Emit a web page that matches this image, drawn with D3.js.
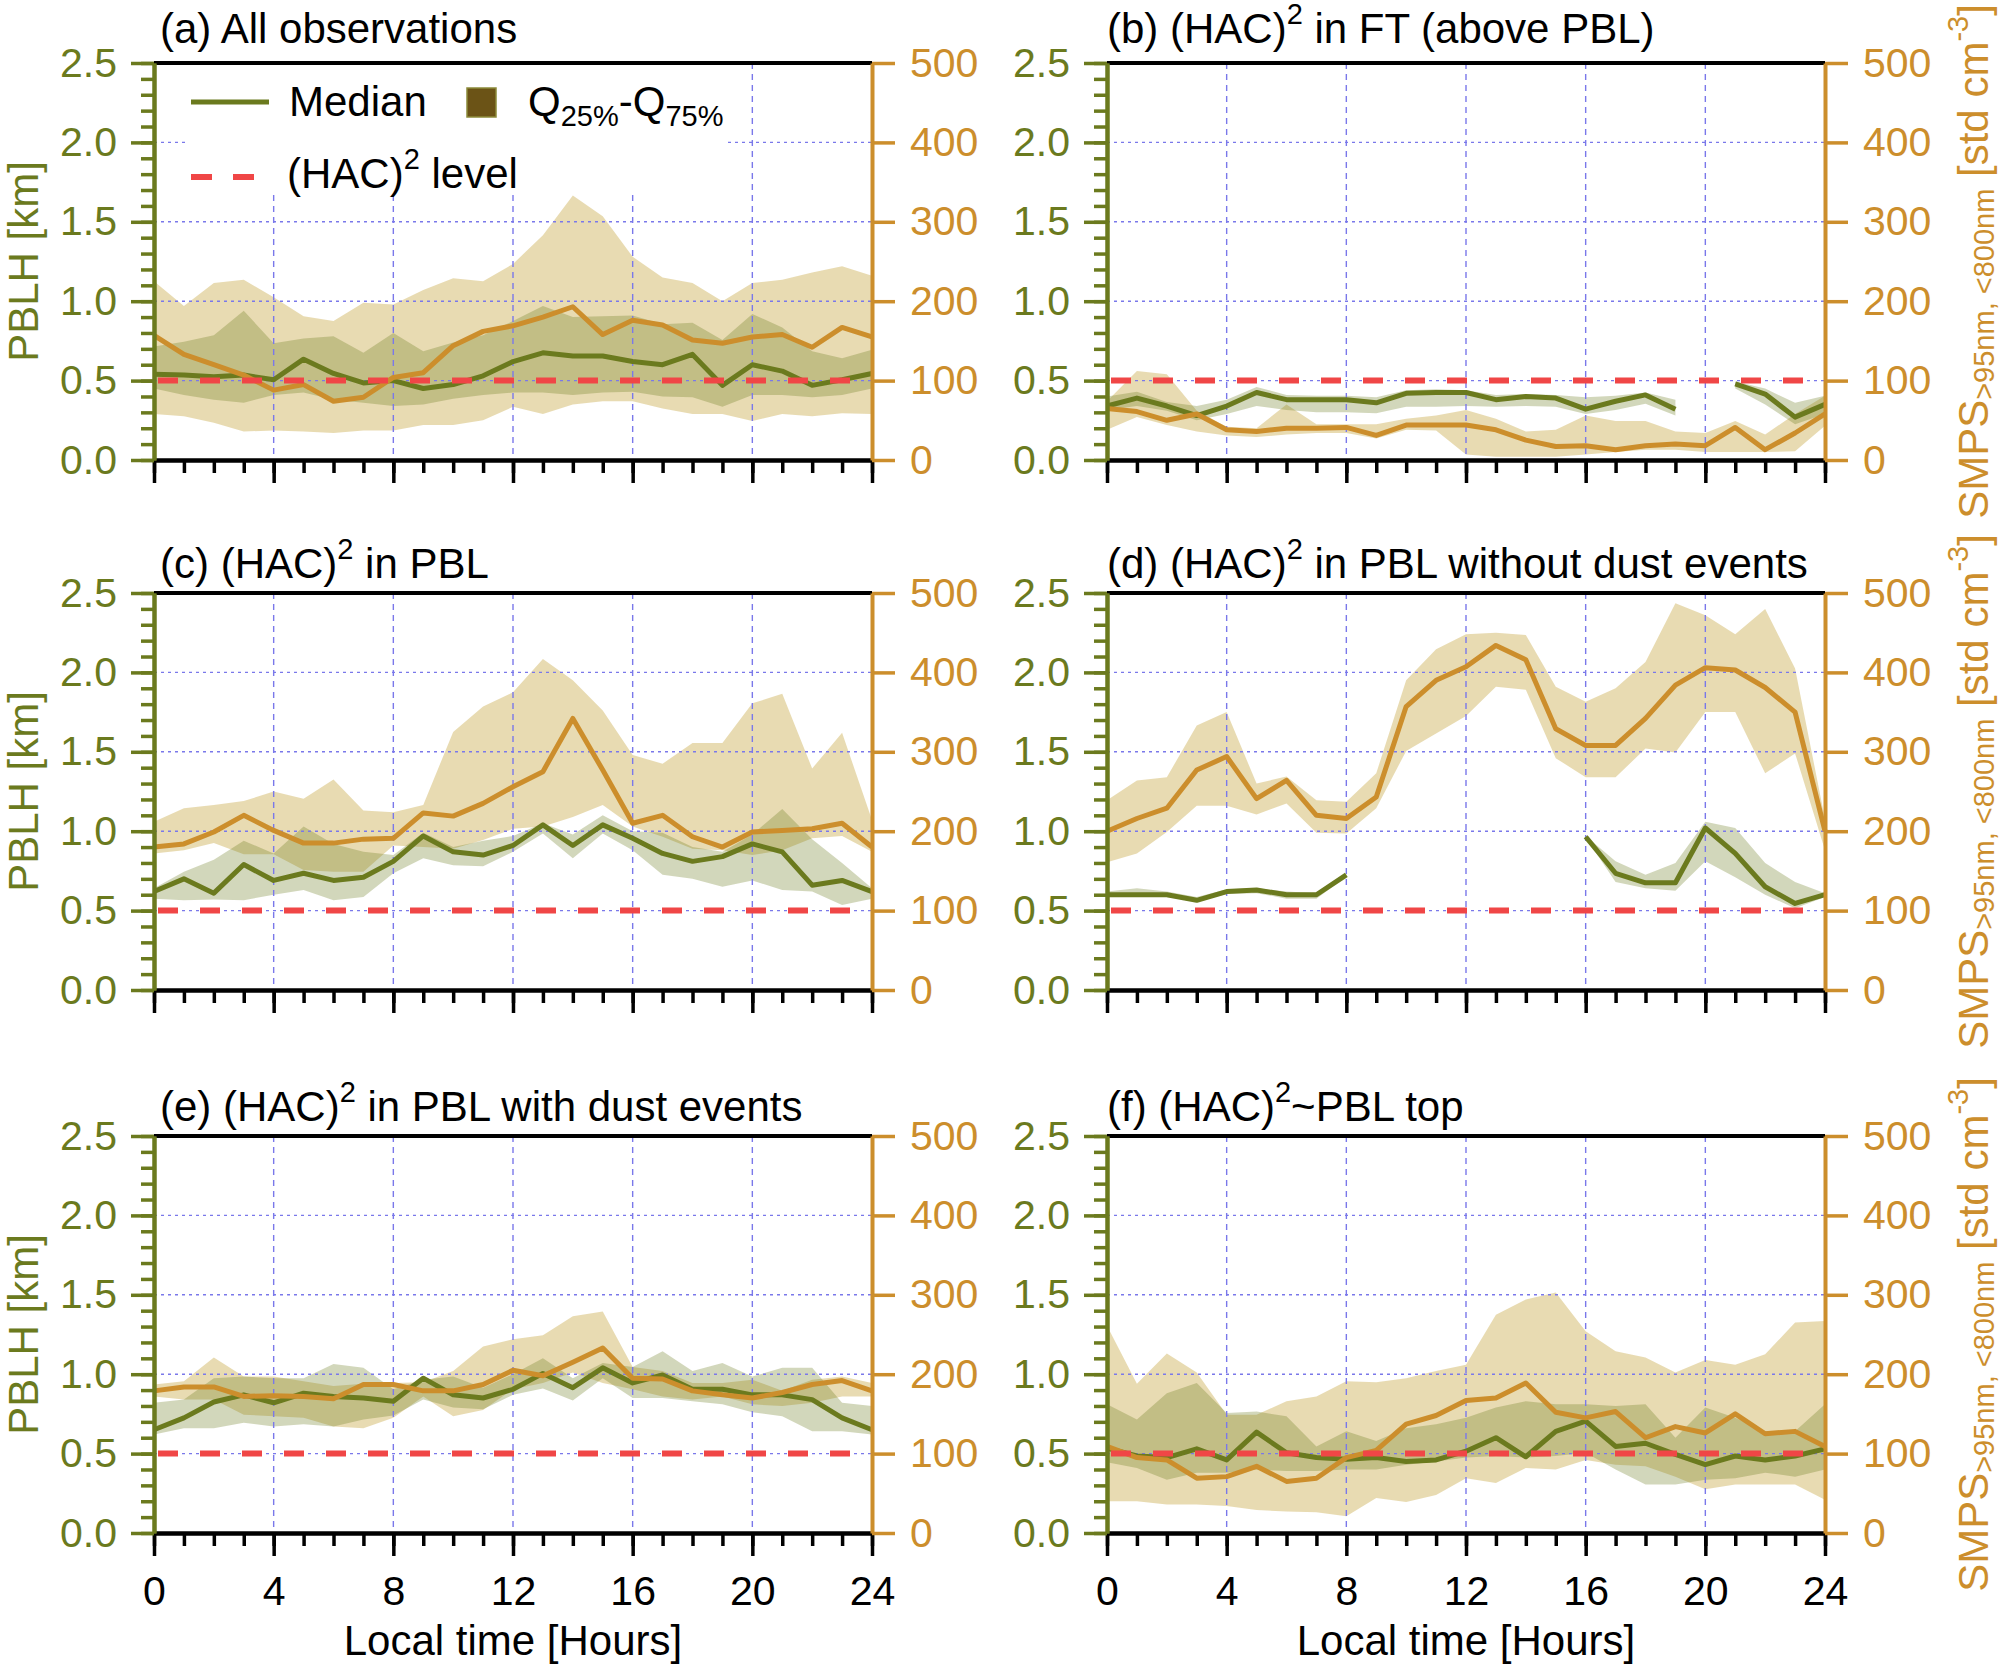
<!DOCTYPE html>
<html>
<head>
<meta charset="utf-8">
<script src="https://cdn.jsdelivr.net/npm/d3@7"></script>
<style>
  body { margin: 0; background: #fff; }
  svg { display: block; }
  text { font-family: "Liberation Sans", Arial, sans-serif; }
</style>
</head>
<body>
<svg id="chart" width="2000" height="1670"></svg>
<script>
// hours of the day (x axis)
var hours = [0,1,2,3,4,5,6,7,8,9,10,11,12,13,14,15,16,17,18,19,20,21,22,23,24];

// (a) All observations
var pblhMed_a = [0.54,0.535,0.525,0.535,0.505,0.635,0.545,0.485,0.50,0.45,0.475,0.53,0.62,0.675,0.655,0.655,0.62,0.60,0.665,0.47,0.60,0.56,0.47,0.505,0.545];
var pblhQ75_a = [0.715,0.745,0.785,0.94,0.735,0.765,0.78,0.675,0.80,0.685,0.74,0.785,0.875,0.97,0.90,0.905,0.91,0.855,0.865,0.755,0.92,0.835,0.685,0.64,0.695];
var pblhQ25_a = [0.45,0.41,0.38,0.36,0.41,0.425,0.38,0.36,0.34,0.35,0.385,0.41,0.425,0.425,0.41,0.425,0.43,0.40,0.395,0.335,0.41,0.41,0.395,0.41,0.45];
var smpsMed_a = [157,133,120,107,88,95,74,79,104,110,144,162,169,180,193,158,176,170,151,147,155,158,142,167,155];
var smpsQ75_a = [225,194,223,227,205,181,175,198,196,214,229,225,247,283,333,307,256,230,223,200,223,227,236,244,232];
var smpsQ25_a = [58,55,47,36,37,36,34,37,37,44,44,50,67,58,70,74,74,65,58,58,49,58,55,59,58];

// (b) (HAC)2 in FT
var pblhMed_b = [0.34,0.39,0.34,0.28,0.34,0.425,0.38,0.38,0.38,0.36,0.42,0.425,0.425,0.38,0.40,0.39,0.32,0.37,0.41,0.32,null,0.48,0.415,0.27,0.35];
var pblhQ75_b = [0.40,0.43,0.365,0.34,0.38,0.46,0.41,0.405,0.405,0.395,0.44,0.445,0.44,0.41,0.415,0.41,0.395,0.405,0.425,0.38,null,0.495,0.45,0.36,0.405];
var pblhQ25_b = [0.315,0.34,0.31,0.25,0.29,0.34,0.315,0.30,0.30,0.295,0.335,0.335,0.34,0.335,0.34,0.335,0.29,0.315,0.355,0.28,null,0.45,0.35,0.225,0.29];
var smpsMed_b = [65,61,50,58,38,36,40,40,41,31,44,44,44,38,25,17,18,13,18,20,18,41,13,34,58];
var smpsQ75_b = [74,112,108,62,42,40,70,45,45,45,52,56,63,52,36,38,56,49,49,36,34,49,32,58,81];
var smpsQ25_b = [38,54,44,36,31,29,32,34,34,27,38,37,7,4,4,4,7,10,13,13,10,10,10,11,43];

// (c) (HAC)2 in PBL
var pblhMed_c = [0.62,0.70,0.61,0.79,0.69,0.735,0.69,0.71,0.81,0.97,0.87,0.85,0.91,1.04,0.91,1.04,0.955,0.86,0.81,0.84,0.92,0.87,0.66,0.69,0.62];
var pblhQ75_c = [0.64,0.745,0.82,0.94,0.86,1.03,0.92,0.87,0.85,0.99,0.90,0.94,0.97,1.05,0.98,1.10,1.0,0.99,0.90,0.87,0.98,1.14,0.95,0.80,0.64];
var pblhQ25_c = [0.575,0.565,0.57,0.565,0.60,0.63,0.565,0.585,0.735,0.83,0.785,0.78,0.87,0.985,0.83,0.985,0.88,0.725,0.70,0.65,0.69,0.63,0.62,0.535,0.575];
var smpsMed_c = [180,184,199,220,201,185,185,190,191,223,219,235,256,275,342,277,210,220,193,180,199,201,203,210,180];
var smpsQ75_c = [212,229,233,238,250,241,265,226,224,233,325,357,375,417,390,352,296,285,311,311,361,373,279,324,214];
var smpsQ25_c = [172,176,185,171,171,151,149,149,182,180,178,189,203,206,218,233,206,193,178,176,170,176,191,194,174];

// (d) (HAC)2 in PBL without dust events
var pblhMed_d = [0.60,0.60,0.60,0.565,0.62,0.63,0.60,0.60,0.725,null,null,null,null,null,null,null,0.965,0.735,0.675,0.675,1.02,0.86,0.65,0.545,0.60];
var pblhQ75_d = [0.62,0.64,0.62,0.585,0.635,0.64,0.62,0.61,0.73,null,null,null,null,null,null,null,0.97,0.81,0.725,0.80,1.06,1.02,0.80,0.68,0.61];
var pblhQ25_d = [0.585,0.585,0.585,0.555,0.605,0.61,0.575,0.575,0.715,null,null,null,null,null,null,null,0.96,0.68,0.64,0.625,0.81,0.71,0.60,0.515,0.585];
var smpsMed_d = [200,216,229,277,294,241,264,220,216,243,357,390,407,434,416,329,308,308,342,384,406,403,381,350,200];
var smpsQ75_d = [239,264,268,333,350,260,269,239,237,273,390,429,448,450,447,382,363,380,413,487,472,448,480,405,215];
var smpsQ25_d = [161,172,199,232,232,221,235,198,197,229,301,323,345,382,378,292,268,268,304,299,350,350,273,298,176];

// (e) (HAC)2 in PBL with dust events
var pblhMed_e = [0.65,0.725,0.825,0.87,0.82,0.88,0.86,0.85,0.83,0.975,0.87,0.85,0.905,1.005,0.915,1.04,0.945,0.995,0.905,0.905,0.87,0.87,0.84,0.725,0.65];
var pblhQ75_e = [0.82,0.84,0.975,0.985,0.975,0.975,1.065,1.04,0.905,0.965,0.985,0.915,1.0,1.10,0.975,1.07,1.045,1.145,1.02,1.07,0.985,1.04,1.04,0.82,0.80];
var pblhQ25_e = [0.62,0.66,0.66,0.695,0.67,0.685,0.67,0.715,0.74,0.84,0.79,0.78,0.87,0.91,0.835,0.975,0.85,0.85,0.83,0.81,0.76,0.735,0.64,0.64,0.62];
var smpsMed_e = [179,184,184,172,173,172,169,187,187,179,179,187,205,198,215,233,195,194,179,174,170,177,187,192,179];
var smpsQ75_e = [187,191,221,197,197,191,185,188,189,190,204,235,244,249,273,279,209,204,189,189,193,179,193,197,189];
var smpsQ25_e = [172,168,168,149,147,145,134,132,145,172,147,155,181,189,202,189,181,172,168,172,162,160,164,172,172];

// (f) (HAC)2 ~ PBL top
var pblhMed_f = [0.535,0.485,0.475,0.53,0.46,0.635,0.505,0.475,0.465,0.475,0.45,0.46,0.515,0.60,0.48,0.64,0.705,0.545,0.565,0.495,0.43,0.485,0.46,0.485,0.53];
var pblhQ75_f = [0.81,0.715,0.88,0.945,0.755,0.765,0.735,0.545,0.64,0.58,0.66,0.685,0.725,0.79,0.83,0.81,0.81,0.80,0.81,0.60,0.79,0.725,0.64,0.64,0.81];
var pblhQ25_f = [0.445,0.41,0.335,0.38,0.38,0.40,0.39,0.39,0.40,0.40,0.43,0.45,0.475,0.485,0.475,0.485,0.505,0.40,0.305,0.305,0.335,0.345,0.38,0.355,0.40];
var smpsMed_f = [109,95,92,69,71,84,65,69,95,104,137,148,167,170,189,152,145,153,120,134,126,150,125,128,109];
var smpsQ75_f = [261,188,226,202,149,149,166,172,191,190,195,204,212,275,294,303,254,229,221,202,218,212,225,265,267];
var smpsQ25_f = [40,40,36,36,34,29,27,26,21,44,39,48,69,63,82,80,92,86,84,71,55,61,61,61,42];

// titles: [prefix, has superscript 2, rest]
var titles = [
  ["(a) All observations", false, ""],
  ["(b) (HAC)", true, " in FT (above PBL)"],
  ["(c) (HAC)", true, " in PBL"],
  ["(d) (HAC)", true, " in PBL without dust events"],
  ["(e) (HAC)", true, " in PBL with dust events"],
  ["(f) (HAC)", true, "~PBL top"]
];
var hacLevel = 0.5;
var xTicks = [0,4,8,12,16,20,24];
var leftTicks = [0,0.5,1.0,1.5,2.0,2.5];
var rightTicks = [0,100,200,300,400,500];

var panels = [
  {pm: pblhMed_a, p75: pblhQ75_a, p25: pblhQ25_a, sm: smpsMed_a, s75: smpsQ75_a, s25: smpsQ25_a},
  {pm: pblhMed_b, p75: pblhQ75_b, p25: pblhQ25_b, sm: smpsMed_b, s75: smpsQ75_b, s25: smpsQ25_b},
  {pm: pblhMed_c, p75: pblhQ75_c, p25: pblhQ25_c, sm: smpsMed_c, s75: smpsQ75_c, s25: smpsQ25_c},
  {pm: pblhMed_d, p75: pblhQ75_d, p25: pblhQ25_d, sm: smpsMed_d, s75: smpsQ75_d, s25: smpsQ25_d},
  {pm: pblhMed_e, p75: pblhQ75_e, p25: pblhQ25_e, sm: smpsMed_e, s75: smpsQ75_e, s25: smpsQ25_e},
  {pm: pblhMed_f, p75: pblhQ75_f, p25: pblhQ25_f, sm: smpsMed_f, s75: smpsQ75_f, s25: smpsQ25_f}
];

var olive = "#6b7a1e", orange = "#cc8e2c", red = "#f04646", gridCol = "#7a78ea";
var colX = [154, 1107], plotW = 718, rowTop = [63, 593, 1136], plotH = 397;
var fs = 41, fsTitle = 42;

var svg = d3.select("#chart");

function styleAxis(sel, col, labCol) {
  sel.select(".domain").attr("stroke", col).attr("stroke-width", 4);
  sel.selectAll(".tick line").attr("stroke", col).attr("stroke-width", 3.5);
  sel.selectAll(".tick text").attr("fill", labCol).attr("font-size", fs)
     .attr("font-family", "'Liberation Sans', Arial, sans-serif");
}

panels.forEach(function(p, i) {
  var col = i % 2, row = Math.floor(i / 2);
  var x0 = colX[col], x1 = x0 + plotW, top = rowTop[row], bottom = top + plotH;
  var x = d3.scaleLinear().domain([0, 24]).range([x0, x1]);
  var yL = d3.scaleLinear().domain([0, 2.5]).range([bottom, top]);
  var yR = d3.scaleLinear().domain([0, 500]).range([bottom, top]);
  var g = svg.append("g");

  var rows = hours.map(function(h, k) {
    return {h: h, pm: p.pm[k], p75: p.p75[k], p25: p.p25[k], sm: p.sm[k], s75: p.s75[k], s25: p.s25[k]};
  });

  // quartile bands
  g.append("path").datum(rows)
    .attr("fill", "rgba(205,175,85,0.45)")
    .attr("d", d3.area().defined(function(d) { return d.s25 != null; })
      .x(function(d) { return x(d.h); })
      .y0(function(d) { return yR(d.s25); })
      .y1(function(d) { return yR(d.s75); }));
  g.append("path").datum(rows)
    .attr("fill", "rgba(107,122,30,0.3)")
    .attr("d", d3.area().defined(function(d) { return d.p25 != null; })
      .x(function(d) { return x(d.h); })
      .y0(function(d) { return yL(d.p25); })
      .y1(function(d) { return yL(d.p75); }));

  // grid
  g.append("g").selectAll("line").data([0.5, 1.0, 1.5, 2.0]).join("line")
    .attr("x1", x0).attr("x2", x1)
    .attr("y1", function(d) { return yL(d); }).attr("y2", function(d) { return yL(d); })
    .attr("stroke", gridCol).attr("stroke-width", 1.4).attr("stroke-dasharray", "3,4");
  g.append("g").selectAll("line").data([4, 8, 12, 16, 20]).join("line")
    .attr("x1", function(d) { return x(d); }).attr("x2", function(d) { return x(d); })
    .attr("y1", top).attr("y2", bottom)
    .attr("stroke", gridCol).attr("stroke-width", 1.4).attr("stroke-dasharray", "6,5");

  // legend (panel a only)
  if (i === 0) {
    var lg = g.append("g");
    lg.append("rect").attr("x", 186).attr("y", top + 2).attr("width", 542).attr("height", 128).attr("fill", "#fff");
    lg.append("line").attr("x1", 191).attr("x2", 269).attr("y1", 102).attr("y2", 102)
      .attr("stroke", olive).attr("stroke-width", 5);
    lg.append("text").attr("x", 289).attr("y", 116).attr("font-size", fsTitle).text("Median");
    lg.append("rect").attr("x", 467).attr("y", 88).attr("width", 29).attr("height", 29)
      .attr("fill", "#6b5316").attr("stroke", "#8c8a3a").attr("stroke-width", 1.5);
    var q = lg.append("text").attr("x", 528).attr("y", 116).attr("font-size", fsTitle);
    q.append("tspan").text("Q");
    q.append("tspan").attr("font-size", 29).attr("dy", 10).text("25%");
    q.append("tspan").attr("dy", -10).text("-Q");
    q.append("tspan").attr("font-size", 29).attr("dy", 10).text("75%");
    lg.append("line").attr("x1", 191).attr("x2", 254).attr("y1", 177).attr("y2", 177)
      .attr("stroke", red).attr("stroke-width", 6).attr("stroke-dasharray", "21,21");
    var hl = lg.append("text").attr("x", 287).attr("y", 188).attr("font-size", fsTitle);
    hl.append("tspan").text("(HAC)");
    hl.append("tspan").attr("font-size", 29).attr("dy", -19).text("2");
    hl.append("tspan").attr("dy", 19).text(" level");
  }

  // median lines
  g.append("path").datum(rows)
    .attr("fill", "none").attr("stroke", olive).attr("stroke-width", 5).attr("stroke-linejoin", "round")
    .attr("d", d3.line().defined(function(d) { return d.pm != null; })
      .x(function(d) { return x(d.h); }).y(function(d) { return yL(d.pm); }));
  g.append("path").datum(rows)
    .attr("fill", "none").attr("stroke", orange).attr("stroke-width", 5).attr("stroke-linejoin", "round")
    .attr("d", d3.line().defined(function(d) { return d.sm != null; })
      .x(function(d) { return x(d.h); }).y(function(d) { return yR(d.sm); }));

  // (HAC)2 level
  g.append("line").attr("x1", x0 + 4).attr("x2", x1).attr("y1", yL(hacLevel)).attr("y2", yL(hacLevel))
    .attr("stroke", red).attr("stroke-width", 6).attr("stroke-dasharray", "20,22");

  // top frame
  g.append("line").attr("x1", x0).attr("x2", x1).attr("y1", top).attr("y2", top)
    .attr("stroke", "#000").attr("stroke-width", 4);

  // bottom axis (minor + major)
  g.append("g").attr("transform", "translate(0," + bottom + ")")
    .call(d3.axisBottom(x).tickValues(hours).tickSize(13).tickSizeOuter(0).tickFormat(function() { return ""; }))
    .call(function(s) { styleAxis(s, "#000", "#000"); });
  var last = row === 2;
  g.append("g").attr("transform", "translate(0," + bottom + ")")
    .call(d3.axisBottom(x).tickValues(xTicks).tickSize(23).tickSizeOuter(0).tickPadding(20)
      .tickFormat(function(d) { return last ? d : ""; }))
    .call(function(s) { styleAxis(s, "#000", "#000"); });

  // left axis (minor + major)
  g.append("g").attr("transform", "translate(" + x0 + ",0)")
    .call(d3.axisLeft(yL).tickValues(d3.range(0, 2.51, 0.1)).tickSize(13).tickSizeOuter(0).tickFormat(function() { return ""; }))
    .call(function(s) { styleAxis(s, olive, olive); });
  g.append("g").attr("transform", "translate(" + x0 + ",0)")
    .call(d3.axisLeft(yL).tickValues(leftTicks).tickSize(23).tickSizeOuter(0).tickPadding(14).tickFormat(d3.format(".1f")))
    .call(function(s) { styleAxis(s, olive, olive); });

  // right axis
  g.append("g").attr("transform", "translate(" + x1 + ",0)")
    .call(d3.axisRight(yR).tickValues(rightTicks).tickSize(23).tickSizeOuter(0).tickPadding(15))
    .call(function(s) { styleAxis(s, orange, orange); });

  // title
  var t = g.append("text").attr("x", col === 0 ? x0 + 6 : x0)
    .attr("y", top - (row === 0 ? 20 : 15)).attr("font-size", fsTitle);
  t.append("tspan").text(titles[i][0]);
  if (titles[i][1]) {
    t.append("tspan").attr("font-size", 29).attr("dy", -19).text("2");
    t.append("tspan").attr("dy", 19).text(titles[i][2]);
  }

  // axis titles
  if (col === 0) {
    g.append("text").attr("transform", "translate(38," + (top + plotH / 2) + ") rotate(-90)")
      .attr("text-anchor", "middle").attr("font-size", fsTitle).attr("fill", olive).text("PBLH [km]");
  } else {
    var r = g.append("text").attr("transform", "translate(1988," + (top + plotH / 2) + ") rotate(-90)")
      .attr("text-anchor", "middle").attr("font-size", fsTitle).attr("fill", orange);
    r.append("tspan").text("SMPS");
    r.append("tspan").attr("font-size", 29).attr("dy", 6).text(">95nm, <800nm");
    r.append("tspan").attr("dy", -6).text(" [std cm");
    r.append("tspan").attr("font-size", 29).attr("dy", -20).text("-3");
    r.append("tspan").attr("dy", 20).text("]");
  }
  if (last) {
    g.append("text").attr("x", (x0 + x1) / 2).attr("y", 1655).attr("text-anchor", "middle")
      .attr("font-size", fsTitle).text("Local time [Hours]");
  }
});
</script>
</body>
</html>
